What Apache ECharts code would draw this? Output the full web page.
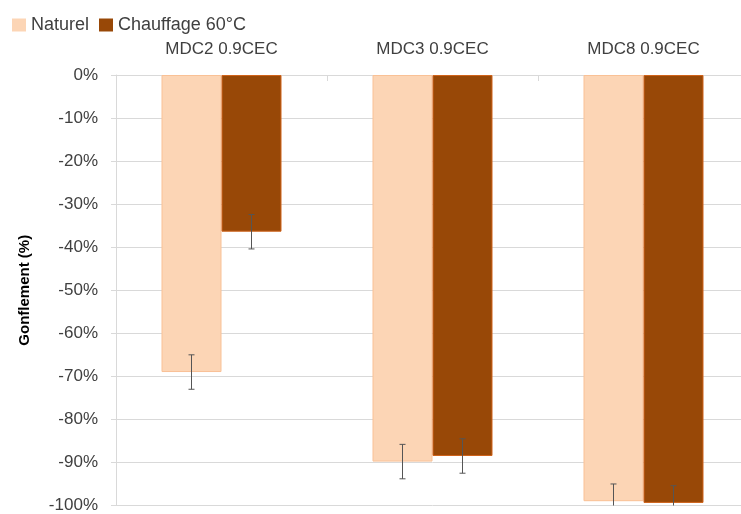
<!DOCTYPE html>
<html><head><meta charset="utf-8">
<script src="https://cdn.jsdelivr.net/npm/echarts@6/dist/echarts.min.js"></script>
<style>html,body{margin:0;padding:0;background:#fff;overflow:hidden}#c{width:749px;height:514px}</style>
</head><body><div id="c"></div>
<script>
const categories = ['MDC2 0.9CEC', 'MDC3 0.9CEC', 'MDC8 0.9CEC'];
const seriesNames = ['Naturel', 'Chauffage 60°C'];
const naturel = [-69, -89.8, -99];
const chauffage = [-36.4, -88.5, -99.4];
const errNaturel = [4, 4, 4];
const errChauffage = [4, 4, 4];
const yTicks = [0, -10, -20, -30, -40, -50, -60, -70, -80, -90, -100];

const txt = '#404040';
const font = 'Liberation Sans';
const chart = echarts.init(document.getElementById('c'));

function errSeries(vals, errs, offset) {
  return {
    type: 'custom',
    silent: true,
    z: 5,
    data: vals.map((v, i) => [i, v, errs[i]]),
    renderItem: function (params, api) {
      const i = api.value(0), v = api.value(1), e = api.value(2);
      const top = api.coord([i, v + e]);
      const bot = api.coord([i, v - e]);
      const x = top[0] + offset;
      const cs = params.coordSys;
      const yMax = cs.y + cs.height;
      const yMin = cs.y;
      let y1 = Math.max(top[1], yMin), y2 = Math.min(bot[1], yMax);
      const ch = [];
      const st = {stroke: '#555555', lineWidth: 1};
      ch.push({type: 'line', shape: {x1: x, y1: y1, x2: x, y2: y2}, style: st});
      if (top[1] >= yMin) ch.push({type: 'line', shape: {x1: x - 3, y1: top[1], x2: x + 3, y2: top[1]}, style: st});
      if (bot[1] <= yMax) ch.push({type: 'line', shape: {x1: x - 3, y1: bot[1], x2: x + 3, y2: bot[1]}, style: st});
      return {type: 'group', children: ch};
    }
  };
}

chart.setOption({
  animation: false,
  textStyle: {fontFamily: font},
  legend: {
    left: 7, top: 11,
    itemWidth: 14, itemHeight: 13, itemGap: 10,
    icon: 'rect',
    itemStyle: {borderWidth: 0},
    textStyle: {color: txt, fontSize: 18, fontFamily: font},
    data: seriesNames
  },
  grid: {left: 116, top: 75, right: 0, bottom: 7, containLabel: false},
  xAxis: {
    type: 'category',
    position: 'top',
    data: categories,
    axisLine: {show: true, lineStyle: {color: '#d9d9d9', width: 1}},
    axisTick: {show: true, inside: true, length: 6, lineStyle: {color: '#d9d9d9'}},
    axisLabel: {color: txt, fontSize: 17, margin: 17, fontFamily: font},
    splitLine: {show: false}
  },
  yAxis: {
    type: 'value',
    min: -100, max: 0, interval: 10,
    name: 'Gonflement (%)',
    nameLocation: 'middle',
    nameRotate: 90,
    nameGap: 84,
    nameTextStyle: {color: '#000', fontWeight: 'bold', fontSize: 15, fontFamily: font},
    axisLine: {show: true, lineStyle: {color: '#d9d9d9'}},
    axisTick: {show: true, length: 5, lineStyle: {color: '#d9d9d9'}},
    axisLabel: {color: txt, fontSize: 17, margin: 18, fontFamily: font,
      formatter: v => (yTicks.indexOf(v) >= 0 ? v + '%' : '')},
    splitLine: {show: true, lineStyle: {color: '#d9d9d9', width: 1}}
  },
  series: [
    {name: seriesNames[0], type: 'bar', data: naturel, barWidth: 60, barGap: '0%',
      itemStyle: {color: '#fcd5b5', borderColor: '#f9c196', borderWidth: 1}},
    {name: seriesNames[1], type: 'bar', data: chauffage, barWidth: 60, barGap: '0%',
      itemStyle: {color: '#984807', borderColor: '#d0631a', borderWidth: 1}},
    errSeries(naturel, errNaturel, -30),
    errSeries(chauffage, errChauffage, 30)
  ]
});
</script></body></html>
